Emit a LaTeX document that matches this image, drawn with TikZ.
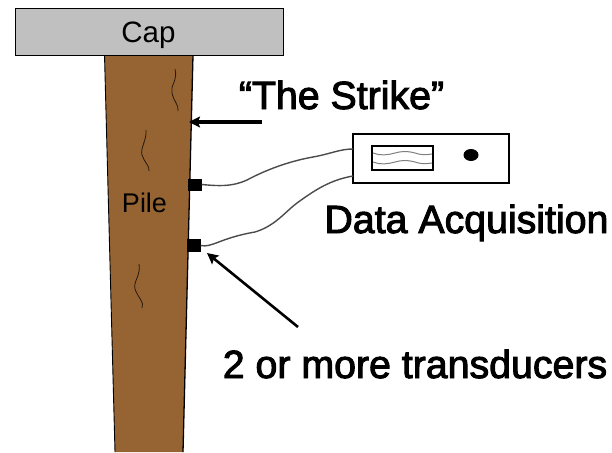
\documentclass[tikz,border=0pt]{standalone}
\usepackage{fontspec}
\setmainfont{Liberation Sans}
\newfontfamily\semibold[FakeBold=2.5]{Liberation Sans}
\usetikzlibrary{arrows.meta,shapes.geometric}
\definecolor{pilebrown}{RGB}{150,100,50}
\definecolor{capgray}{RGB}{192,192,192}
\definecolor{wiregray}{RGB}{75,75,75}
\tikzset{
 px/.style={x=1pt,y=-1pt},
 crack/.style={draw=black!75!pilebrown,line width=0.8pt},
 wire/.style={draw=wiregray,line width=1.4pt},
 gage/.style={fill=black,draw=none,inner sep=0pt,minimum width=14pt,minimum height=12pt},
 callout/.style={draw=black,-{Stealth[inset=2pt,length=11pt,width=11pt]}},
 bigtext/.style={font=\semibold\fontsize{39.3}{42}\selectfont,inner sep=0pt,anchor=base},
 trace/.style={draw=gray,line width=1pt},
}
\begin{document}
\begin{tikzpicture}[px]
\useasboundingbox (0,0) rectangle (612,452);
% pile
\path[fill=pilebrown] (104.5,55) -- (193,55) -- (183,452) -- (115,452) -- cycle;
\draw[black,line width=0.9pt] (104.5,55) -- (115,452);
\draw[black,line width=1.3pt] (193,55) -- (183,452);
% cap
\node[draw=black,fill=capgray,line width=1pt,minimum width=268pt,minimum height=47pt,inner sep=0pt,anchor=north west] (cap) at (14.5,8) {};
\node[font=\fontsize{29.5}{32}\selectfont,inner sep=0pt,anchor=base] (captext) at (148.5,43) {Cap};
\node[font=\fontsize{27}{30}\selectfont,inner sep=0pt,anchor=base] (pile) at (144.5,212) {Pile};
% cracks
\draw[crack] (175,69) .. controls (178,80) and (170,86) .. (172,93) .. controls (174,102) and (179,105) .. (178,111);
\draw[crack] (146,130) .. controls (147,140) and (140,148) .. (142,155) .. controls (144,162) and (150,166) .. (149,171);
\draw[crack] (139,264) .. controls (141,275) and (133,282) .. (135,289) .. controls (137,296) and (145,303) .. (142,308);
% transducers
\node[gage] (t1) at (194.5,184.5) {};
\node[gage,minimum height=13pt] (t2) at (193.5,245.5) {};
% data acquisition
\node[draw=black,line width=2.4pt,fill=white,minimum width=156pt,minimum height=49pt,inner sep=0pt] (daq) at (431,158.5) {};
\node[draw=black,line width=1.6pt,fill=white,minimum width=61pt,minimum height=24pt,inner sep=0pt] (screen) at (402.5,158) {};
\coordinate (l1) at (373,153);
\coordinate (l2) at (373,162);
\draw[trace] (l1) .. controls (380,156) and (388,155) .. (395,153) .. controls (402,151) and (408,151) .. (415,153) .. controls (420,155) and (426,155) .. (432,154);
\draw[trace] (l2) .. controls (380,165) and (388,164) .. (395,162) .. controls (402,160) and (408,160) .. (415,162) .. controls (420,164) and (426,164) .. (432,163);
\node[fill=black,ellipse,inner sep=0pt,minimum width=15pt,minimum height=12pt] (dot) at (471,155) {};
% wires
\coordinate (w1) at (353,149);
\coordinate (w2) at (353,176);
\draw[wire] (t1.east) .. controls (218,186) and (232,187) .. (247,180) .. controls (262,172) and (285,162) .. (313,157) .. controls (330,154) and (340,149) .. (w1);
\draw[wire] (t2.east) .. controls (212,248) and (220,238) .. (255,232) .. controls (275,226) and (285,212) .. (297,203) .. controls (315,190) and (330,180) .. (w2);
% labels
\node[bigtext] (strike) at (341.5,109) {“The Strike”};
\node[bigtext] (data) at (466.5,233) {Data Acquisition};
\node[bigtext] (trans) at (415,378) {2 or more transducers};
% arrows
\coordinate (s0) at (262,122);
\coordinate (s1) at (189,122);
\coordinate (a0) at (298,327);
\coordinate (a1) at (207,253);
\draw[callout,line width=3.6pt] (s0) -- (s1);
\draw[callout,line width=2.6pt] (a0) -- (a1);
\end{tikzpicture}
\end{document}
